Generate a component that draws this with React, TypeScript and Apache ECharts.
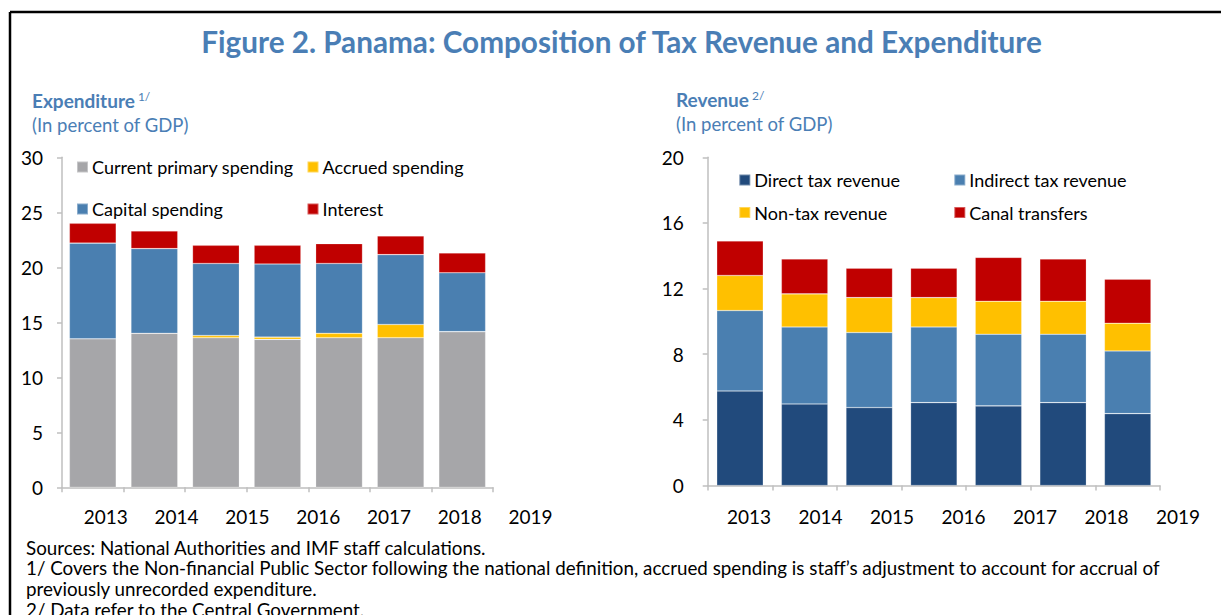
import React, { useEffect, useRef } from "react";
import * as echarts from "echarts";

const years = ["2013", "2014", "2015", "2016", "2017", "2018", "2019"];

// Expenditure (percent of GDP)
const currentPrimary = [13.5, 14.0, 13.6, 13.45, 13.6, 13.6, 14.15];
const accrued = [0, 0, 0.2, 0.2, 0.4, 1.2, 0];
const capital = [8.7, 7.7, 6.55, 6.65, 6.35, 6.35, 5.35];
const interest = [1.8, 1.6, 1.65, 1.7, 1.8, 1.7, 1.8];

// Revenue (percent of GDP)
const directTax = [5.76, 4.97, 4.75, 5.05, 4.85, 5.05, 4.38];
const indirectTax = [4.9, 4.69, 4.57, 4.61, 4.37, 4.17, 3.82];
const nonTax = [2.14, 2.02, 2.13, 1.79, 2.01, 2.01, 1.69];
const canal = [2.1, 2.12, 1.79, 1.79, 2.67, 2.57, 2.68];

const expTicks = [0, 30, 5];
const revTicks = [0, 20, 4];

const FONT = "Lato";
const BLUE_HEAD = "#4A7EB5";
const AXIS = "#BFBFBF";

const C_GRAY = "#A6A6A9";
const C_BLUE = "#4A7FB0";
const C_YELLOW = "#FFC000";
const C_RED = "#C00000";
const C_NAVY = "#214A7C";

const footnotes = [
  "Sources: National Authorities and IMF staff calculations.",
  "1/ Covers the Non-financial Public Sector following the national definition, accrued spending is staff\u2019s adjustment to account for accrual of",
  "previously unrecorded expenditure.",
  "2/ Data refer to the Central Government.",
];

function legendItem(name: string, left: number, cy: number) {
  return {
    data: [name],
    left,
    top: cy - 11,
    padding: 0,
    itemWidth: 11,
    itemHeight: 11,
    icon: "rect",
    itemGap: 0,
    textStyle: { fontFamily: FONT, fontSize: 18, color: "#000", lineHeight: 22, padding: [0, 0, 0, -1] },
    selectedMode: false,
  };
}

export default function App() {
  const ref = useRef<HTMLDivElement>(null);
  useEffect(() => {
    if (!ref.current) return;
    const chart = echarts.init(ref.current, undefined, { renderer: "svg" });

    const valueAxisCommon = {
      type: "value" as const,
      axisLine: { show: true, lineStyle: { color: AXIS, width: 1.5 } },
      axisTick: { show: true, length: 5, lineStyle: { color: AXIS, width: 1.5 } },
      splitLine: { show: false },
      axisLabel: { fontFamily: FONT, fontSize: 19, color: "#000" },
    };
    const catAxisCommon = {
      type: "category" as const,
      data: years,
      axisLine: { show: true, lineStyle: { color: AXIS, width: 1.5 } },
      axisTick: { show: true, length: 5, alignWithLabel: false, lineStyle: { color: AXIS, width: 1.5 } },
      axisLabel: { show: false },
    };

    const barStyle = (color: string) => ({ color, borderColor: "rgba(255,255,255,0.35)", borderWidth: 0.6 });

    const footGraphics = footnotes.map((t, i) => ({
      type: "text",
      x: 26,
      y: 547 + i * 20.7,
      style: { text: t, fontFamily: FONT, fontSize: 18.8, fill: "#000", verticalAlign: "middle" },
    }));

    chart.setOption({
      animation: false,
      backgroundColor: "#fff",
      grid: [
        { left: 62, top: 157.3, width: 431, height: 330 },
        { left: 707.7, top: 157.3, width: 452.3, height: 328.2 },
        { left: 70.4, top: 157.3, width: 495.6, height: 330 },
        { left: 713.2, top: 157.3, width: 500.6, height: 328.2 },
      ],
      xAxis: [
        { ...catAxisCommon, gridIndex: 0 },
        { ...catAxisCommon, gridIndex: 1 },
        {
          type: "category", gridIndex: 2, data: years,
          axisLine: { show: false }, axisTick: { show: false },
          axisLabel: { fontFamily: FONT, fontSize: 19, color: "#000", margin: 20 },
        },
        {
          type: "category", gridIndex: 3, data: years,
          axisLine: { show: false }, axisTick: { show: false },
          axisLabel: { fontFamily: FONT, fontSize: 19, color: "#000", margin: 21 },
        },
      ],
      yAxis: [
        { ...valueAxisCommon, gridIndex: 0, min: expTicks[0], max: expTicks[1], interval: expTicks[2], axisLabel: { ...valueAxisCommon.axisLabel, margin: 19 } },
        { ...valueAxisCommon, gridIndex: 1, min: revTicks[0], max: revTicks[1], interval: revTicks[2], axisLabel: { ...valueAxisCommon.axisLabel, margin: 24 } },
        { type: "value", gridIndex: 2, show: false },
        { type: "value", gridIndex: 3, show: false },
      ],
      legend: [
        legendItem("Current primary spending", 76, 167),
        legendItem("Accrued spending", 306.5, 167),
        legendItem("Capital spending", 76, 209),
        legendItem("Interest", 306.5, 209),
        legendItem("Direct tax revenue", 738.3, 180),
        legendItem("Indirect tax revenue", 953.3, 180),
        legendItem("Non-tax revenue", 738.3, 212.5),
        legendItem("Canal transfers", 953.3, 212.5),
      ],
      series: [
        { name: "Current primary spending", type: "bar", stack: "exp", xAxisIndex: 0, yAxisIndex: 0, data: currentPrimary, barCategoryGap: "24%", itemStyle: barStyle(C_GRAY) },
        { name: "Accrued spending", type: "bar", stack: "exp", xAxisIndex: 0, yAxisIndex: 0, data: accrued, barCategoryGap: "24%", itemStyle: barStyle(C_YELLOW) },
        { name: "Capital spending", type: "bar", stack: "exp", xAxisIndex: 0, yAxisIndex: 0, data: capital, barCategoryGap: "24%", itemStyle: barStyle(C_BLUE) },
        { name: "Interest", type: "bar", stack: "exp", xAxisIndex: 0, yAxisIndex: 0, data: interest, barCategoryGap: "24%", itemStyle: barStyle(C_RED) },
        { name: "Direct tax revenue", type: "bar", stack: "rev", xAxisIndex: 1, yAxisIndex: 1, data: directTax, barCategoryGap: "28%", itemStyle: barStyle(C_NAVY) },
        { name: "Indirect tax revenue", type: "bar", stack: "rev", xAxisIndex: 1, yAxisIndex: 1, data: indirectTax, barCategoryGap: "28%", itemStyle: barStyle(C_BLUE) },
        { name: "Non-tax revenue", type: "bar", stack: "rev", xAxisIndex: 1, yAxisIndex: 1, data: nonTax, barCategoryGap: "28%", itemStyle: barStyle(C_YELLOW) },
        { name: "Canal transfers", type: "bar", stack: "rev", xAxisIndex: 1, yAxisIndex: 1, data: canal, barCategoryGap: "28%", itemStyle: barStyle(C_RED) },
      ],
      graphic: [
        { type: "line", shape: { x1: 10, y1: 12, x2: 1221, y2: 12 }, style: { stroke: "#000", lineWidth: 2.5 } },
        { type: "line", shape: { x1: 10, y1: 12, x2: 10, y2: 615 }, style: { stroke: "#000", lineWidth: 2.5 } },
        {
          type: "text", x: 621.5, y: 41,
          style: { text: "Figure 2. Panama: Composition of Tax Revenue and Expenditure", fontFamily: FONT, fontWeight: "bold", fontSize: 29.7, fill: BLUE_HEAD, align: "center", verticalAlign: "middle" },
        },
        {
          type: "text", x: 32, y: 100,
          style: {
            text: "{b|Expenditure} {s|1/}",
            fontFamily: FONT, fill: BLUE_HEAD, verticalAlign: "middle",
            rich: {
              b: { fontFamily: FONT, fontSize: 19, fontWeight: "bold", fill: BLUE_HEAD, color: BLUE_HEAD },
              s: { fontFamily: FONT, fontSize: 12, fill: BLUE_HEAD, color: BLUE_HEAD, verticalAlign: "top", padding: [0, 0, 8, 0] },
            },
          },
        },
        {
          type: "text", x: 32, y: 125,
          style: { text: "(In percent of GDP)", fontFamily: FONT, fontSize: 18.5, fill: BLUE_HEAD, verticalAlign: "middle" },
        },
        {
          type: "text", x: 676, y: 99,
          style: {
            text: "{b|Revenue} {s|2/}",
            fontFamily: FONT, fill: BLUE_HEAD, verticalAlign: "middle",
            rich: {
              b: { fontFamily: FONT, fontSize: 19, fontWeight: "bold", fill: BLUE_HEAD, color: BLUE_HEAD },
              s: { fontFamily: FONT, fontSize: 12, fill: BLUE_HEAD, color: BLUE_HEAD, verticalAlign: "top", padding: [0, 0, 8, 0] },
            },
          },
        },
        {
          type: "text", x: 676, y: 124,
          style: { text: "(In percent of GDP)", fontFamily: FONT, fontSize: 18.5, fill: BLUE_HEAD, verticalAlign: "middle" },
        },
        ...footGraphics,
      ],
    });
    return () => chart.dispose();
  }, []);

  return (
    <div
      ref={ref}
      style={{ position: "absolute", left: 0, top: 0, width: 1221, height: 615 }}
    />
  );
}
